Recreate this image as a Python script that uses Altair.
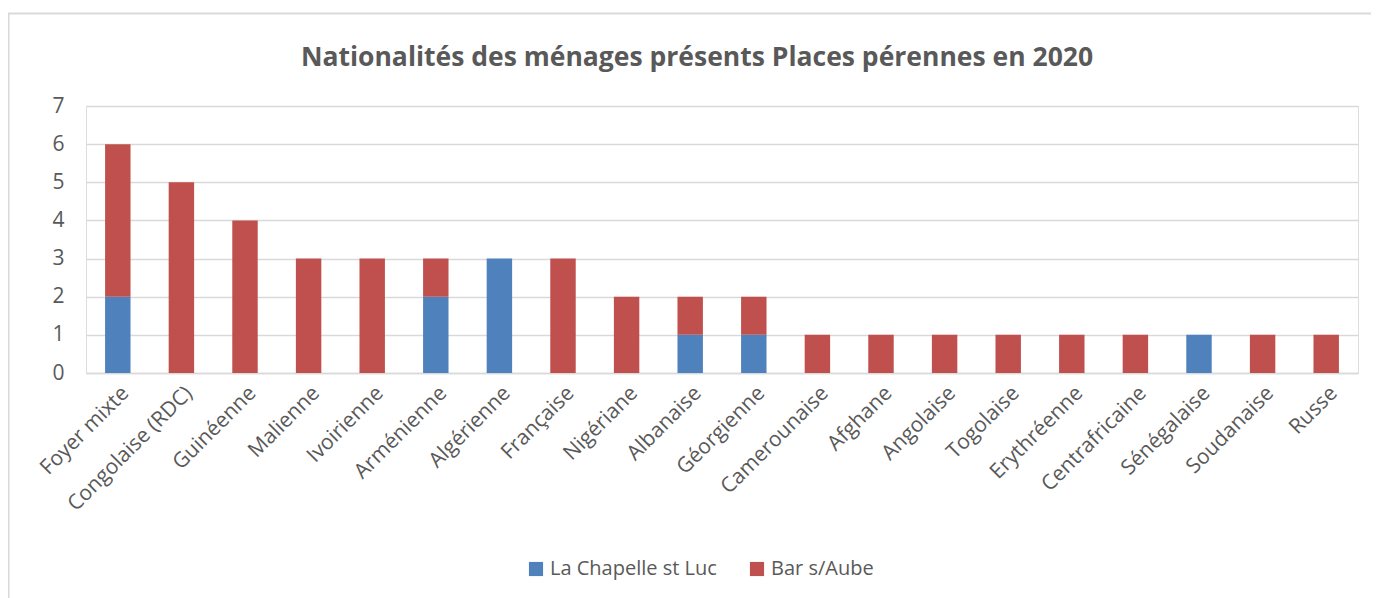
import altair as alt
import pandas as pd

categories = ["Foyer mixte", "Congolaise (RDC)", "Guinéenne", "Malienne", "Ivoirienne",
              "Arménienne", "Algérienne", "Française", "Nigériane", "Albanaise",
              "Géorgienne", "Camerounaise", "Afghane", "Angolaise", "Togolaise",
              "Erythréenne", "Centrafricaine", "Sénégalaise", "Soudanaise", "Russe"]
la_chapelle = [2, 0, 0, 0, 0, 2, 3, 0, 0, 1, 1, 0, 0, 0, 0, 0, 0, 1, 0, 0]
bar_aube = [4, 5, 4, 3, 3, 1, 0, 3, 2, 1, 1, 1, 1, 1, 1, 1, 1, 0, 1, 1]
series = ["La Chapelle st Luc", "Bar s/Aube"]
colors = ["#4F81BD", "#C0504D"]
title_text = ["Nationalités des ménages présents Places pérennes en 2020"]

rows = []
for i, c in enumerate(categories):
    rows.append({"cat": c, "serie": series[0], "val": la_chapelle[i], "ord": 0})
    rows.append({"cat": c, "serie": series[1], "val": bar_aube[i], "ord": 1})
df = pd.DataFrame(rows)

FONT = "Open Sans"
GREY = "#595959"
FS = 21

bars = alt.Chart(df).mark_bar().encode(
    x=alt.X("cat:N", sort=categories, title=None,
            scale=alt.Scale(paddingInner=0.6, paddingOuter=0.3),
            axis=alt.Axis(labelAngle=-45, labelFontSize=FS, labelColor=GREY, labelFont=FONT,
                          ticks=False, domainColor="#D9D9D9", domainWidth=1.5,
                          labelPadding=9, labelLimit=300)),
    y=alt.Y("val:Q", stack="zero", title=None,
            scale=alt.Scale(domain=[0, 7], nice=False),
            axis=alt.Axis(values=[0, 1, 2, 3, 4, 5, 6, 7], labelFontSize=FS, labelColor=GREY,
                          labelFont=FONT, ticks=False, domain=False, labelPadding=22,
                          gridColor="#D9D9D9", gridWidth=1.5)),
    color=alt.Color("serie:N", sort=series,
                    scale=alt.Scale(domain=series, range=colors),
                    legend=alt.Legend(title=None, orient="none", direction="horizontal",
                                      legendX=440, legendY=453, labelFontSize=20,
                                      labelColor=GREY, labelFont=FONT, symbolType="square",
                                      symbolSize=200, symbolStrokeWidth=0, columnPadding=30,
                                      labelOffset=4, labelLimit=400)),
    order=alt.Order("ord:Q"),
)

frame = alt.Chart(pd.DataFrame({"a": [0]})).mark_rect(
    fill=None, stroke="#D9D9D9", strokeWidth=2
).encode(
    x=alt.value(-77.5), x2=alt.value(1320), y=alt.value(-92.5), y2=alt.value(520)
)

title = alt.Chart(pd.DataFrame({"t": title_text})).mark_text(
    font=FONT, fontSize=26.5, fontWeight="bold", color=GREY, align="center", baseline="middle"
).encode(text="t:N", x=alt.value(611), y=alt.value(-48))

chart = alt.layer(frame, bars, title).properties(
    width=1272, height=267,
    padding={"left": 78, "top": 98, "right": 13, "bottom": 225},
    autosize=alt.AutoSizeParams(type="none"),
).configure_view(stroke=None).configure(background="white")

chart.save("out.html", embed_options={"renderer": "svg", "actions": False})
